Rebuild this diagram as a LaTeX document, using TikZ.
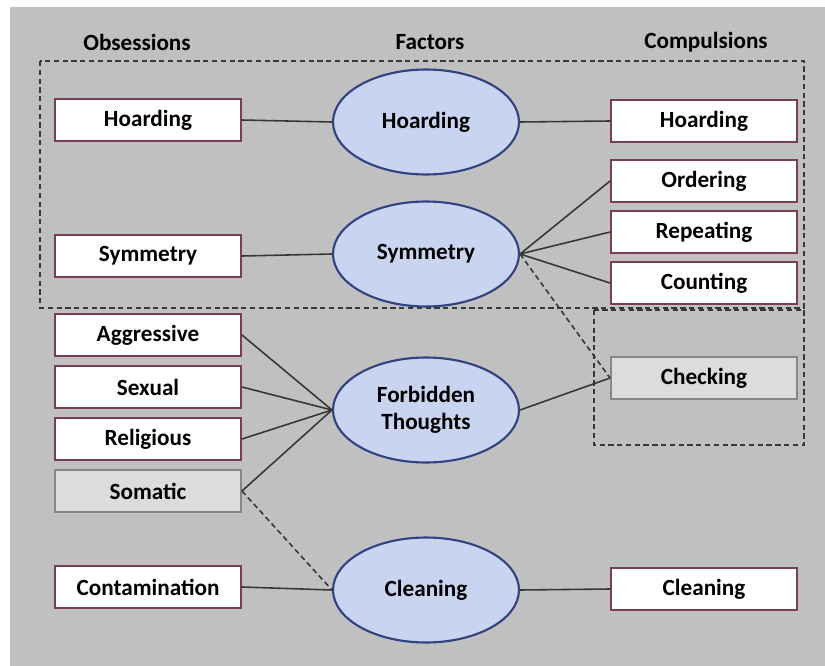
\documentclass[tikz,border=0pt]{standalone}
\usepackage{fontspec}
\setmainfont{Carlito}
\usepackage{xcolor}
\usepackage{tikz}
\usetikzlibrary{shapes.geometric}
\definecolor{fond}{RGB}{192,192,192}
\definecolor{bord}{RGB}{122,62,82}
\definecolor{bleuc}{RGB}{200,212,240}
\definecolor{bleuf}{RGB}{48,66,128}
\definecolor{grisc}{RGB}{220,220,220}
\definecolor{grisb}{RGB}{135,135,135}
\definecolor{trait}{RGB}{55,55,55}
\newcommand{\txt}{\bfseries\fontsize{13.2}{15.5}\selectfont}

\begin{document}
\begin{tikzpicture}[x=0.02cm, y=0.02cm,
  bx/.style={rectangle, draw=bord, fill=white, line width=1.1pt, minimum width=3.72cm,
             minimum height=0.84cm, inner sep=0pt, font=\txt},
  bxg/.style={bx, draw=grisb, fill=grisc},
  fac/.style={ellipse, draw=bleuf, fill=bleuc, line width=1.2pt, minimum width=3.72cm,
              minimum height=2.1cm, inner sep=0pt, align=center, font=\txt},
  tete/.style={font=\txt},
  li/.style={draw=trait, line width=0.9pt},
  lp/.style={li, dashed, dash pattern=on 3pt off 2pt},
  grp/.style={draw=trait, line width=0.7pt, dash pattern=on 3pt off 2pt}]

% fond
\useasboundingbox (0,0) rectangle (825,-666);
\fill[white] (0,0) rectangle (825,-666);
\fill[fond] (10,-7) rectangle (825,-666);

% en-tetes
\node[tete] (hObs) at (137,-42) {Obsessions};
\node[tete] (hFac) at (430,-42) {Factors};
\node[tete] (hComp) at (706,-42) {Compulsions};

% groupes en pointilles
\draw[grp] (40,-61) rectangle (804,-308);
\draw[grp] (594,-310) rectangle (804,-445);

% ── gauche : obsessions ──
\node[bx] (oHoard) at (148,-120) {Hoarding};
\node[bx] (oSym) at (148,-256) {Symmetry};
\node[bx] (oAgg) at (148,-335) {Aggressive};
\node[bx] (oSex) at (148,-387) {Sexual};
\node[bx] (oRel) at (148,-439) {Religious};
\node[bxg] (oSom) at (148,-491) {Somatic};
\node[bx] (oCont) at (148,-587) {Contamination};

% ── milieu : facteurs ──
\node[fac] (fHoard) at (426,-122) {Hoarding};
\node[fac] (fSym) at (426,-254) {Symmetry};
\node[fac] (fForb) at (426,-410) {Forbidden\\Thoughts};
\node[fac] (fClean) at (426,-590) {Cleaning};

% ── droite : compulsions ──
\node[bx] (cHoard) at (704,-121) {Hoarding};
\node[bx] (cOrd) at (704,-181) {Ordering};
\node[bx] (cRep) at (704,-232) {Repeating};
\node[bx] (cCount) at (704,-283) {Counting};
\node[bxg] (cCheck) at (704,-378) {Checking};
\node[bx] (cClean) at (704,-589) {Cleaning};

% liens
\draw[li] (oHoard.east) -- (fHoard.west);
\draw[li] (fHoard.east) -- (cHoard.west);
\draw[li] (oSym.east) -- (fSym.west);
\draw[li] (fSym.east) -- (cOrd.west);
\draw[li] (fSym.east) -- (cRep.west);
\draw[li] (fSym.east) -- (cCount.west);
\draw[lp] (fSym.east) -- (cCheck.west);
\foreach \o in {oAgg, oSex, oRel, oSom}
  \draw[li] (\o.east) -- (fForb.west);
\draw[li] (fForb.east) -- (cCheck.west);
\draw[lp] (oSom.east) -- (fClean.west);
\draw[li] (oCont.east) -- (fClean.west);
\draw[li] (fClean.east) -- (cClean.west);

\end{tikzpicture}
\end{document}
